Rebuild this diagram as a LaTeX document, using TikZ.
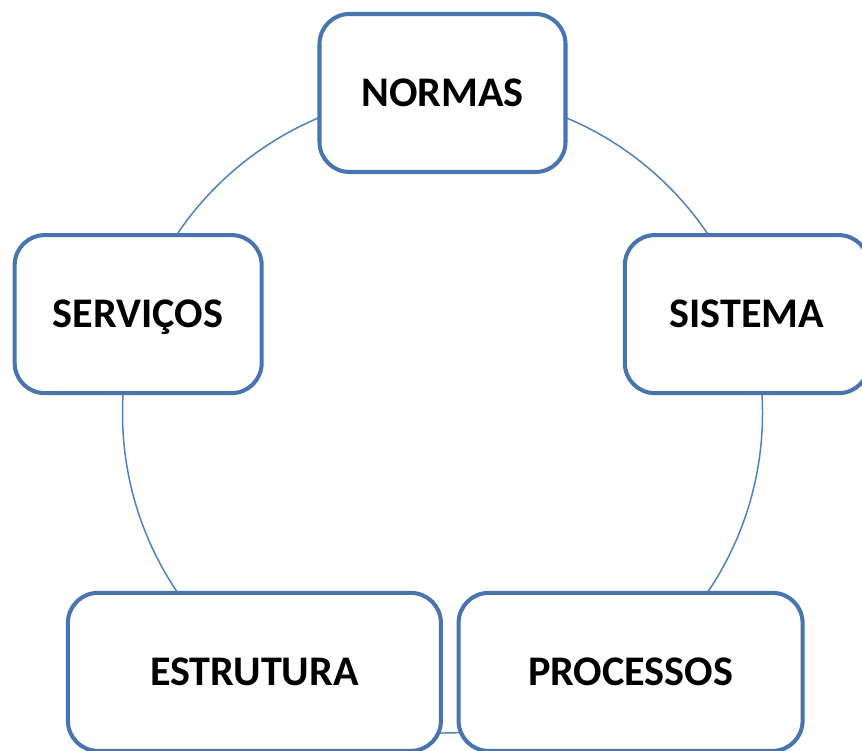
\documentclass[tikz,border=0pt]{standalone}
\usepackage{fontspec}
\setmainfont{Carlito}
\definecolor{boxline}{RGB}{72,117,175}
\definecolor{ringline}{RGB}{79,129,189}
\tikzset{
  cyclebox/.style={draw=boxline, line width=2.3pt, fill=white, rounded corners=0.6cm,
    minimum height=3.16cm, text height=15.5pt, text depth=0pt,
    font=\fontsize{24}{28}\selectfont\bfseries},
}

\begin{document}
\begin{tikzpicture}
  \useasboundingbox (0,0) rectangle (17.24,15);
  \coordinate (ctr) at (8.85,6.74);
  % ring behind the boxes
  \draw[ringline, line width=0.85pt] (ctr) circle (6.4);
  \foreach \ang/\boxw/\nm/\txt in {90/4.92/normas/NORMAS, 18/4.88/sistema/SISTEMA,
      -54/6.88/processos/PROCESSOS, -126/7.46/estrutura/ESTRUTURA, 162/4.94/servicos/SERVIÇOS}
    \node[cyclebox, minimum width=\boxw cm] (\nm) at ([shift={(\ang:6.4)}]ctr) {\txt};
\end{tikzpicture}
\end{document}
